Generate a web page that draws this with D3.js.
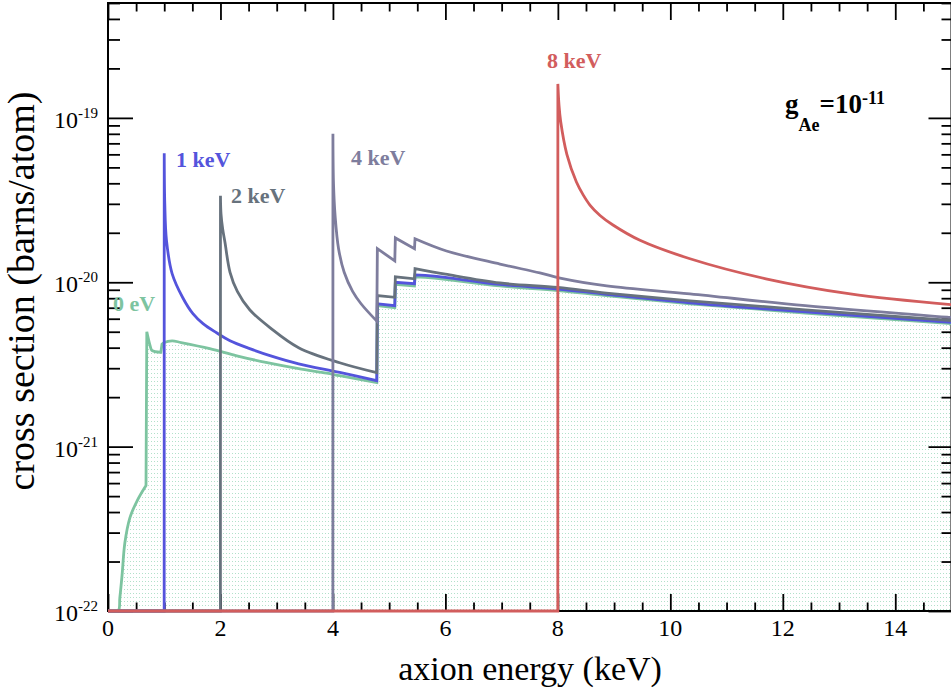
<!DOCTYPE html>
<html>
<head>
<meta charset="utf-8">
<script src="https://cdn.jsdelivr.net/npm/d3@7"></script>
<style>
  html, body { margin: 0; padding: 0; background: #fff; }
  svg { display: block; }
  text { font-family: "Liberation Serif", "Times New Roman", serif; }
</style>
</head>
<body>
<svg id="chart" width="951" height="691"></svg>
<script>
// ---------- data (energy in keV, cross section in barns/atom) ----------
const FLOOR = 1e-22;

const energy0eV = [0.0, 0.18, 0.21, 0.25, 0.30, 0.39, 0.52, 0.676, 0.69, 0.75, 0.78, 0.94, 0.96, 1.0, 1.14, 1.3, 1.81, 2.29, 2.83, 3.39, 3.89, 4.12, 4.78, 4.79, 5.10, 5.11, 5.45, 5.46, 5.8, 6.97, 8.0, 8.86, 10.35, 12.4, 15];
const xsec0eV   = [FLOOR, 1.0e-22, 1.2e-22, 1.65e-22, 2.6e-22, 3.7e-22, 4.7e-22, 5.8e-22, 5.0e-21, 4.1e-21, 3.85e-21, 3.75e-21, 4.2e-21, 4.3e-21, 4.4e-21, 4.3e-21, 3.95e-21, 3.57e-21, 3.24e-21, 2.98e-21, 2.8e-21, 2.7e-21, 2.45e-21, 7.2e-21, 7.0e-21, 9.7e-21, 9.5e-21, 1.08e-20, 1.06e-20, 9.5e-21, 8.9e-21, 8.3e-21, 7.4e-21, 6.5e-21, 5.6e-21];

const energy1keV = [0, 0.999, 1.0, 1.01, 1.04, 1.14, 1.33, 1.51, 1.69, 1.93, 2.17, 2.52, 2.88, 3.39, 4.12, 4.78, 4.79, 5.10, 5.11, 5.45, 5.46, 5.8, 6.97, 8.0, 8.86, 10.35, 12.4, 15];
const xsec1keV   = [FLOOR, FLOOR, 6.1e-20, 3.0e-20, 1.8e-20, 1.13e-20, 8.05e-21, 6.44e-21, 5.6e-21, 4.93e-21, 4.41e-21, 3.95e-21, 3.58e-21, 3.19e-21, 2.83e-21, 2.52e-21, 7.4e-21, 7.2e-21, 1.0e-20, 9.8e-21, 1.11e-20, 1.09e-20, 9.7e-21, 9.1e-21, 8.45e-21, 7.5e-21, 6.6e-21, 5.7e-21];

const energy2keV = [0, 1.999, 2.0, 2.01, 2.04, 2.08, 2.17, 2.3, 2.52, 2.88, 3.39, 4.12, 4.78, 4.79, 5.10, 5.11, 5.45, 5.46, 6.0, 6.97, 8.0, 8.86, 10.35, 12.4, 15];
const xsec2keV   = [FLOOR, FLOOR, 3.36e-20, 2.6e-20, 2.1e-20, 1.75e-20, 1.15e-20, 8.8e-21, 6.8e-21, 5.3e-21, 4.0e-21, 3.24e-21, 2.82e-21, 8.3e-21, 8.1e-21, 1.08e-20, 1.05e-20, 1.21e-20, 1.12e-20, 9.9e-21, 9.3e-21, 8.6e-21, 7.7e-21, 6.8e-21, 5.85e-21];

const energy4keV = [0, 3.999, 4.0, 4.01, 4.04, 4.1, 4.2, 4.35, 4.5, 4.78, 4.79, 5.10, 5.11, 5.45, 5.46, 6.02, 6.97, 7.68, 8.04, 8.87, 10.35, 12.4, 15];
const xsec4keV   = [FLOOR, FLOOR, 8.0e-20, 4.0e-20, 2.5e-20, 1.6e-20, 1.15e-20, 8.8e-21, 7.4e-21, 5.8e-21, 1.6e-20, 1.35e-20, 1.86e-20, 1.6e-20, 1.84e-20, 1.55e-20, 1.29e-20, 1.14e-20, 1.06e-20, 9.5e-21, 8.5e-21, 7.2e-21, 6.1e-21];

const energy8keV = [0, 7.999, 8.0, 8.02, 8.05, 8.16, 8.33, 8.45, 8.57, 8.75, 8.98, 9.46, 10.35, 11.7, 13.2, 15];
const xsec8keV   = [FLOOR, FLOOR, 1.61e-19, 1.2e-19, 9.5e-20, 6.0e-20, 4.07e-20, 3.4e-20, 2.95e-20, 2.55e-20, 2.23e-20, 1.8e-20, 1.39e-20, 1.05e-20, 8.5e-21, 7.3e-21];

const xMajorTicks = [0, 2, 4, 6, 8, 10, 12, 14];
const xTickLabels = ["0", "2", "4", "6", "8", "10", "12", "14"];
const yMajorTicks = [1e-22, 1e-21, 1e-20, 1e-19];
const yTickExponents = ["-22", "-21", "-20", "-19"];

const seriesNames  = ["0 eV", "1 keV", "2 keV", "4 keV", "8 keV"];
const seriesColors = ["#7dc4a0", "#5454dc", "#67727d", "#7e7d9d", "#d25d5d"];

// ---------- layout ----------
const W = 951, H = 691;
const L = 108, R = 951.5, T = 3, B = 611;

const svg = d3.select("#chart");
svg.append("rect").attr("width", W).attr("height", H).attr("fill", "#fff");

const x = d3.scaleLinear().domain([0, 15]).range([L, R]);
const y = d3.scaleLog().domain([1e-22, 5e-19]).range([B, T]);

const defs = svg.append("defs");
defs.append("clipPath").attr("id", "clip")
  .append("rect").attr("x", L).attr("y", T - 2).attr("width", R - L).attr("height", B - T + 4);

const pat = defs.append("pattern").attr("id", "dots")
  .attr("patternUnits", "userSpaceOnUse").attr("width", 3).attr("height", 4);
pat.append("rect").attr("x", 1).attr("y", 1).attr("width", 1).attr("height", 1)
  .attr("fill", "#b2e1ca").attr("shape-rendering", "crispEdges");

// ---------- series ----------
const series = [
  { e: energy0eV, s: xsec0eV },
  { e: energy1keV, s: xsec1keV },
  { e: energy2keV, s: xsec2keV },
  { e: energy4keV, s: xsec4keV },
  { e: energy8keV, s: xsec8keV }
].map((d, i) => ({ name: seriesNames[i], color: seriesColors[i],
  pts: d.e.map((v, j) => [v, d.s[j]]) }));

// split a series at absorption edges / thresholds (near-vertical jumps),
// smooth each piece, and join the pieces with straight segments
const smooth = d3.line().curve(d3.curveCatmullRom.alpha(0.5)).x(d => x(d[0])).y(d => y(d[1]));
function piecewisePath(pts) {
  const pieces = [[pts[0]]];
  for (let i = 1; i < pts.length; i++) {
    const dx = pts[i][0] - pts[i - 1][0];
    const ratio = Math.abs(Math.log10(pts[i][1] / pts[i - 1][1]));
    if (dx <= 0.021 && ratio > 0.04 && i > 1 && pts[i][1] > pts[i - 1][1]) pieces.push([pts[i]]);
    else pieces[pieces.length - 1].push(pts[i]);
  }
  return pieces.map((p, k) => {
    const s = smooth(p);
    return k === 0 ? s : "L" + s.slice(1);
  }).join("");
}

// fill under the 0 eV curve
const fillG = svg.append("g").attr("clip-path", "url(#clip)");
const p0 = series[0].pts.filter(p => p[0] >= 0.18);
const fillPath = piecewisePath(p0) + `L${x(15)},${y(1e-22)}L${x(0.18)},${y(1e-22)}Z`;
fillG.append("path").attr("d", fillPath).attr("fill", "url(#dots)");

// ---------- axes (ticks inward on all four sides) ----------
const yMinor = [];
for (let p = -22; p <= -19; p++) for (let k = 2; k <= 9; k++) {
  const v = k * Math.pow(10, p);
  if (v <= 5e-19) yMinor.push(v);
}
const xMinor = d3.range(0, 15.01, 0.5).filter(v => v % 2 !== 0);

const axG = svg.append("g");
function ticks(axisFn, scale, vals, size, tx, ty) {
  const a = axisFn(scale).tickValues(vals).tickSize(size).tickFormat("").tickSizeOuter(0);
  const g = axG.append("g").attr("transform", `translate(${tx},${ty})`).call(a);
  g.select(".domain").remove();
  g.selectAll("line").attr("stroke", "#000").attr("stroke-width", 1.8);
}
ticks(d3.axisBottom, x, xMajorTicks, -17, 0, B);
ticks(d3.axisBottom, x, xMinor, -8.5, 0, B);
ticks(d3.axisTop, x, xMajorTicks, -17, 0, T);
ticks(d3.axisTop, x, xMinor, -8.5, 0, T);
ticks(d3.axisLeft, y, yMajorTicks, -25, L, 0);
ticks(d3.axisLeft, y, yMinor, -12, L, 0);
ticks(d3.axisRight, y, yMajorTicks, -23, R, 0);
ticks(d3.axisRight, y, yMinor, -10, R, 0);

svg.append("rect").attr("x", L).attr("y", T).attr("width", R - L).attr("height", B - T)
  .attr("fill", "none").attr("stroke", "#000").attr("stroke-width", 2);

// lines drawn on top of the frame
const lineG = svg.append("g").attr("clip-path", "url(#clip)");
series.forEach(s => {
  lineG.append("path").attr("d", piecewisePath(s.pts))
    .attr("fill", "none").attr("stroke", s.color).attr("stroke-width", 2.8)
    .attr("stroke-linejoin", "miter");
});

// ---------- tick labels ----------
xMajorTicks.forEach((v, i) => {
  svg.append("text").attr("x", x(v)).attr("y", 636).attr("text-anchor", "middle")
    .attr("font-size", 24).text(xTickLabels[i]);
});
yMajorTicks.forEach((v, i) => {
  const t = svg.append("text").attr("x", 98).attr("y", y(v) + 10).attr("text-anchor", "end")
    .attr("font-size", 24);
  t.append("tspan").text("10");
  t.append("tspan").attr("font-size", 15).attr("dy", -10).text(yTickExponents[i]);
});

// ---------- axis titles ----------
svg.append("text").attr("x", 530).attr("y", 680).attr("text-anchor", "middle")
  .attr("font-size", 34).text("axion energy (keV)");
svg.append("text").attr("transform", "translate(34,291) rotate(-90)").attr("text-anchor", "middle")
  .attr("font-size", 38).text("cross section (barns/atom)");

// ---------- series labels ----------
const labelPos = [[113, 311], [176, 167], [231, 203], [351, 165], [547, 68]];
series.forEach((s, i) => {
  svg.append("text").attr("x", labelPos[i][0]).attr("y", labelPos[i][1])
    .attr("font-size", 22).attr("font-weight", "bold").attr("fill", s.color).text(s.name);
});

// coupling annotation
const g = svg.append("text").attr("x", 785).attr("y", 113).attr("font-size", 27)
  .attr("font-weight", "bold").attr("fill", "#000");
g.append("tspan").text("g");
g.append("tspan").attr("font-size", 18).attr("dy", 18).text("Ae");
g.append("tspan").attr("dy", -18).text("=10");
g.append("tspan").attr("font-size", 18).attr("dy", -9).text("-11");
</script>
</body>
</html>
